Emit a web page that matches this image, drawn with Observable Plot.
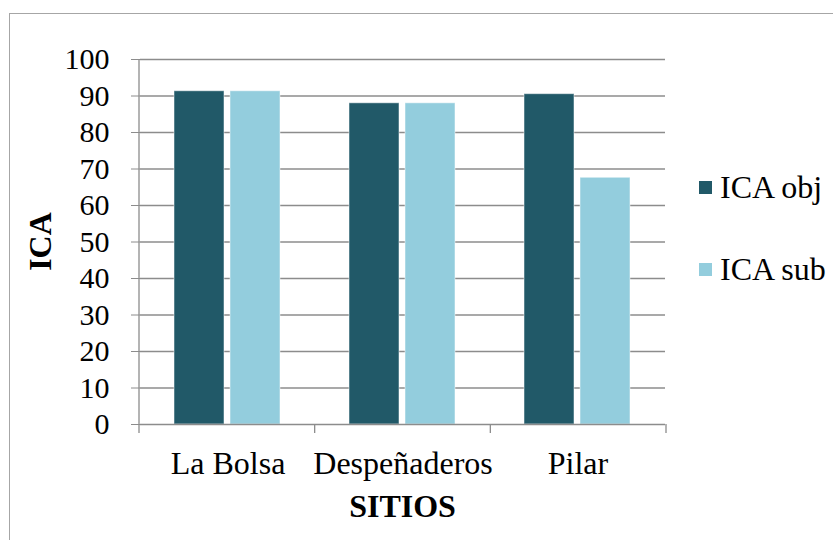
<!DOCTYPE html>
<html>
<head>
<meta charset="utf-8">
<script src="https://cdn.jsdelivr.net/npm/d3@7"></script>
<script src="https://cdn.jsdelivr.net/npm/@observablehq/plot@0.6"></script>
<style>
  body { margin: 0; background: #fff; }
  #frame { position: absolute; left: 9px; top: 13px; width: 900px; height: 600px; border: 1.5px solid #a6a6a6; }
  #chart { position: absolute; left: 0; top: 0; }
  #chart svg, #chart svg text { font-family: "Liberation Serif", "Times New Roman", serif !important; }
  #chart [aria-label^="y-axis"] line, #chart [aria-label^="y-axis"] path { stroke: #8c8c8c; }
  #chart [aria-label^="fx-axis"] text { font-size: 32px; }
</style>
</head>
<body>
<div id="frame"></div>
<div id="chart"></div>
<script>
// Índice de calidad del agua por sitio
const sites = ["La Bolsa", "Despeñaderos", "Pilar"];
const series = ["ICA obj", "ICA sub"];
const icaObj = [91.3, 88.0, 90.5];
const icaSub = [91.3, 88.0, 67.6];
const yTicks = [0, 10, 20, 30, 40, 50, 60, 70, 80, 90, 100];
const colors = ["#215968", "#93cddd"];

const rows = sites.flatMap((site, i) => [
  {site, series: series[0], value: icaObj[i]},
  {site, series: series[1], value: icaSub[i]}
]);

const gridColor = "#8c8c8c";
const font = '"Liberation Serif", "Times New Roman", serif';

const plot = Plot.plot({
  width: 833,
  height: 540,
  marginLeft: 139,
  marginRight: 167,
  marginTop: 59,
  marginBottom: 116,
  style: {fontFamily: font, fontSize: "30px", background: "transparent", color: "#000"},
  facet: {data: rows, x: "site"},
  fx: {domain: sites, padding: 0, axis: "bottom", label: null, tickSize: 0, tickPadding: 27},
  x: {domain: series, paddingInner: 0.105, paddingOuter: 0.594, axis: null},
  y: {domain: [0, 100], ticks: yTicks, tickSize: 9, tickPadding: 22, label: null},
  color: {domain: series, range: colors},
  marks: [
    Plot.ruleY(yTicks.slice(1), {stroke: gridColor, strokeWidth: 1.3}),
    Plot.barY(rows, {x: "series", y: "value", fill: "series", stroke: "#fff", strokeWidth: 1, strokeOpacity: 0.5}),
    Plot.ruleY([0], {stroke: gridColor, strokeWidth: 1.3})
  ]
});

document.getElementById("chart").append(plot);

// Axis lines, category dividers, titles and legend
const svg = d3.select(plot);
const yS = plot.scale("y");
const fxS = plot.scale("fx");
const y = d3.scaleLinear().domain(yS.domain).range(yS.range);
const fx = d3.scaleBand().domain(fxS.domain).range(fxS.range).padding(0);
const x0 = fx.range()[0];

svg.append("line")
  .attr("x1", x0).attr("x2", x0)
  .attr("y1", y(0)).attr("y2", y(100))
  .attr("stroke", gridColor).attr("stroke-width", 1.3);

const edges = sites.map(s => fx(s)).concat([fx(sites[sites.length - 1]) + fx.bandwidth()]);
svg.append("g").selectAll("line").data(edges).join("line")
  .attr("x1", d => d).attr("x2", d => d)
  .attr("y1", y(0)).attr("y2", y(0) + 9)
  .attr("stroke", gridColor).attr("stroke-width", 1.3);

svg.append("text")
  .attr("transform", `translate(40,${(y(0) + y(100)) / 2}) rotate(-90)`)
  .attr("text-anchor", "middle").attr("dy", "0.35em")
  .style("font-size", "32px").style("font-weight", "bold")
  .text("ICA");

svg.append("text")
  .attr("x", (fx.range()[0] + fx.range()[1]) / 2).attr("y", 517)
  .attr("text-anchor", "middle")
  .style("font-size", "32px").style("font-weight", "bold")
  .text("SITIOS");

const legend = svg.append("g").attr("transform", "translate(699,0)");
const legendY = [187, 269];
series.forEach((s, i) => {
  legend.append("rect")
    .attr("x", 0).attr("y", legendY[i] - 6).attr("width", 13).attr("height", 13)
    .attr("fill", colors[i]);
  legend.append("text")
    .attr("x", 21).attr("y", legendY[i]).attr("dy", "0.35em")
    .attr("text-anchor", "start")
    .style("font-size", "32px")
    .text(s);
});
</script>
</body>
</html>
